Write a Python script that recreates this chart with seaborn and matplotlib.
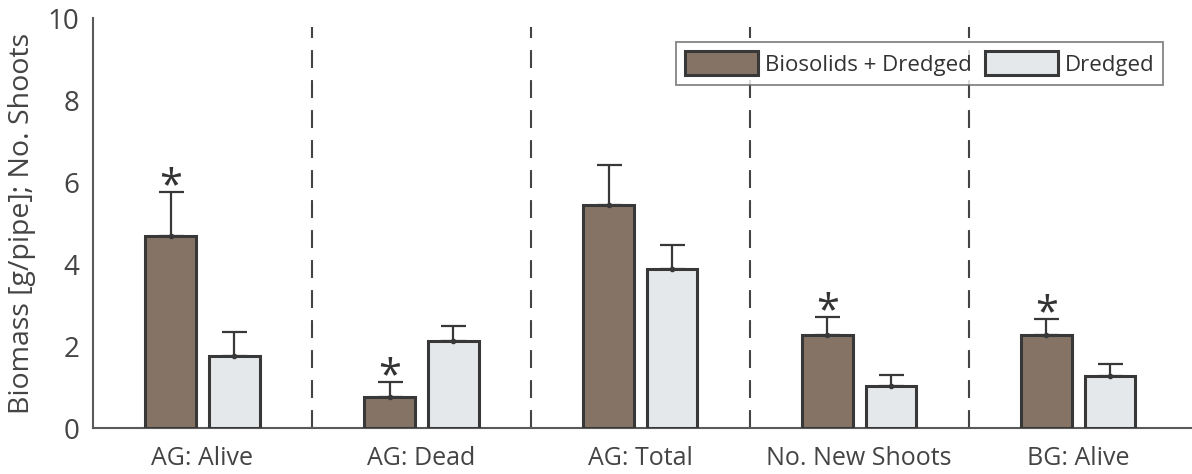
import matplotlib
matplotlib.use("Agg")
import matplotlib.pyplot as plt
import seaborn as sns
import pandas as pd
import numpy as np

categories = ["AG: Alive", "AG: Dead", "AG: Total", "No. New Shoots", "BG: Alive"]
treatments = ["Biosolids + Dredged", "Dredged"]
biosolids_mean = [4.68, 0.76, 5.44, 2.27, 2.27]
biosolids_err = [1.08, 0.36, 0.97, 0.44, 0.39]
dredged_mean = [1.76, 2.12, 3.88, 1.02, 1.27]
dredged_err = [0.58, 0.38, 0.58, 0.27, 0.29]
significant = [True, True, False, True, True]

colors = ["#8A7461", "#E3E8EB"]
edge = "#383838"
axis_col = "#5a5a5a"
text_col = "#444444"

df = pd.DataFrame({
    "category": categories * 2,
    "treatment": [treatments[0]] * 5 + [treatments[1]] * 5,
    "value": biosolids_mean + dredged_mean,
})

sns.set_theme(style="white")
plt.rcParams["font.family"] = ["Open Sans", "DejaVu Sans"]

fig = plt.figure(figsize=(11.92, 4.74), dpi=100)
ax = fig.add_axes([0.078, 0.097, 0.922, 0.865])

sns.barplot(data=df, x="category", y="value", hue="treatment", order=categories,
            hue_order=treatments, palette=colors, width=0.58, gap=0.2,
            edgecolor=edge, linewidth=2.2, errorbar=None, ax=ax, zorder=3)

# error bars from bar patches
bars = [p for p in ax.patches if p.get_height() > 0][:10]
errs = biosolids_err + dredged_err
for p, e in zip(bars, errs):
    xc = p.get_x() + p.get_width() / 2
    h = p.get_height()
    ax.errorbar(xc, h, yerr=[[0], [e]], fmt="o", ms=3, color=edge,
                ecolor=edge, elinewidth=1.6, capsize=9, capthick=1.6, zorder=4)

for i, sig in enumerate(significant):
    if sig:
        p = bars[i]
        xc = p.get_x() + p.get_width() / 2
        top = biosolids_mean[i] + biosolids_err[i]
        ax.text(xc, top - 0.40, "*", ha="center", va="bottom", fontsize=30,
                color="#333333", zorder=5)

# dashed separators
for xs in [0.5, 1.5, 2.5, 3.5]:
    ax.plot([xs, xs], [0, 9.78], color="#444444", lw=1.5, ls=(0, (8.6, 5.8)),
            zorder=2)

ax.set_xlim(-0.5, 4.52)
ax.set_ylim(0, 10)
ax.set_yticks([0, 2, 4, 6, 8, 10])
ax.set_xlabel("")
ax.set_ylabel("Biomass [g/pipe]; No. Shoots", fontsize=20.5, color=text_col,
              labelpad=8)

for s in ["top", "right"]:
    ax.spines[s].set_visible(False)
for s in ["left", "bottom"]:
    ax.spines[s].set_color(axis_col)
    ax.spines[s].set_linewidth(1.5)

ax.tick_params(axis="both", direction="in", length=9, width=1.3, color=axis_col,
               labelcolor=text_col)
ax.tick_params(axis="x", pad=13, labelsize=18)
ax.tick_params(axis="y", pad=10, labelsize=20)

handles, labels = ax.get_legend_handles_labels()
leg = ax.legend(handles, labels, ncol=2, loc="upper right",
                bbox_to_anchor=(0.974, 0.941), fontsize=16, frameon=True,
                fancybox=False, edgecolor="#666666", handlelength=3.3,
                handleheight=1.3, columnspacing=0.6, handletextpad=0.3,
                borderpad=0.4, borderaxespad=0)
leg.get_frame().set_linewidth(1.3)
for t in leg.get_texts():
    t.set_color("#333333")

fig.savefig("out.png", dpi=100)
